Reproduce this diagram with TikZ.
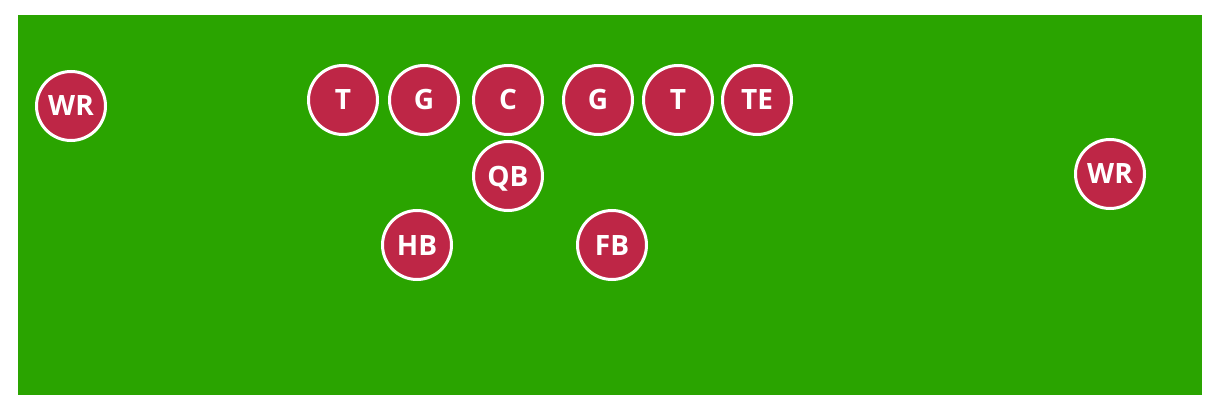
\documentclass[tikz,border=0pt]{standalone}
\usepackage{fontspec}
\usepackage{xcolor}
\usepackage{tikz}
\setsansfont{Open Sans}
\definecolor{fieldgreen}{RGB}{42,164,0}
\definecolor{playerred}{RGB}{190,38,70}

\begin{document}
\begin{tikzpicture}[
    x=1pt, y=-1pt,
    player/.style={circle, draw=white, line width=3pt, fill=playerred, minimum size=69pt, inner sep=0pt,
        text=white, font=\sffamily\bfseries\fontsize{28}{30}\selectfont, text height=20pt, text depth=0pt}
]

% Field
\useasboundingbox (0,0) rectangle (1216,409);
\fill[fieldgreen] (18,15) rectangle (1202,395);

% Offensive line
\node[player] (lt) at (343,100) {T};
\node[player] (lg) at (424,100) {G};
\node[player] (c) at (508,100) {C};
\node[player] (rg) at (598,100) {G};
\node[player] (rt) at (678,100) {T};
\node[player] (te) at (757,100) {TE};

% Backfield
\node[player] (qb) at (508,176) {QB};
\node[player] (hb) at (417,245) {HB};
\node[player] (fb) at (612,245) {FB};

% Receivers
\node[player] (wr_left) at (71,106) {WR};
\node[player] (wr_right) at (1110,174) {WR};

\end{tikzpicture}
\end{document}
